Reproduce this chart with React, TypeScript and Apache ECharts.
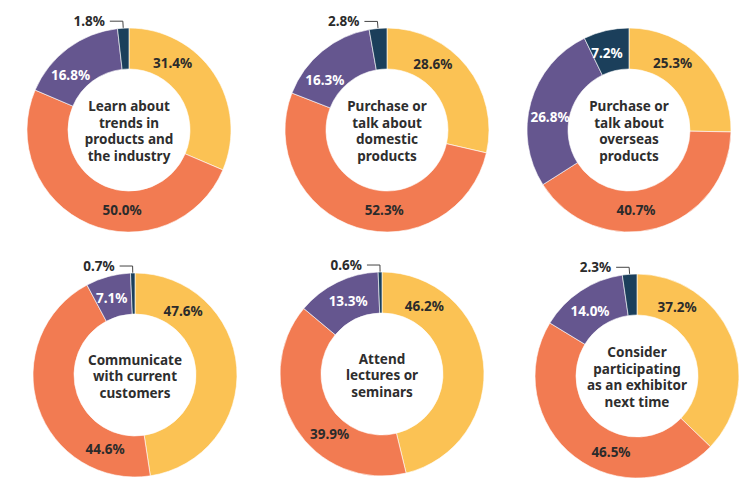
import React, { useEffect, useRef } from "react";
import * as echarts from "echarts";

// Slice categories (order clockwise from 12 o'clock)
const segmentNames = ["Segment 1", "Segment 2", "Segment 3", "Segment 4"];

// Purpose shown in the middle of each donut
const purposes = [
  "Learn about\ntrends in\nproducts and\nthe industry",
  "Purchase or\ntalk about\ndomestic\nproducts",
  "Purchase or\ntalk about\noverseas\nproducts",
  "Communicate\nwith current\ncustomers",
  "Attend\nlectures or\nseminars",
  "Consider\nparticipating\nas an exhibitor\nnext time",
];

// Shares (%) per donut
const learnTrends = [31.4, 50.0, 16.8, 1.8];
const domesticProducts = [28.6, 52.3, 16.3, 2.8];
const overseasProducts = [25.3, 40.7, 26.8, 7.2];
const currentCustomers = [47.6, 44.6, 7.1, 0.7];
const lectures = [46.2, 39.9, 13.3, 0.6];
const exhibitorNextTime = [37.2, 46.5, 14.0, 2.3];

const allValues = [
  learnTrends,
  domesticProducts,
  overseasProducts,
  currentCustomers,
  lectures,
  exhibitorNextTime,
];

// ---- layout / style (not data) ----
const COLORS = ["#FBC254", "#F27B52", "#65568F", "#1B3F5B"];
const LABEL_COLORS = ["#2B2B2B", "#2B2B2B", "#FFFFFF", "#FFFFFF"];
const CENTERS: [number, number][] = [
  [129, 130],
  [387, 130],
  [629, 130],
  [135, 375],
  [382, 374],
  [637, 376],
];
// label placement angle (deg clockwise from 12 o'clock) inside the ring, as in the reference;
// null = small slice labelled outside with a leader line
const LABEL_ANGLES: (number | null)[][] = [
  [33, 185, 313, null],
  [35, 182, 309, null],
  [33, 175, 279, 344],
  [37, 202, 343, null],
  [32, 221, 335, null],
  [30, 199, 324, null],
];
const LABEL_R = 80;
const FONT = '"Noto Sans", "DejaVu Sans", sans-serif';

export default function App() {
  const ref = useRef<HTMLDivElement>(null);

  useEffect(() => {
    if (!ref.current) return;
    const chart = echarts.init(ref.current, null, { renderer: "svg" });

    const series = allValues.map((vals, i) => ({
      type: "pie",
      center: CENTERS[i],
      radius: [61, 102],
      startAngle: 90,
      clockwise: true,
      avoidLabelOverlap: false,
      silent: true,
      itemStyle: { borderColor: "#ffffff", borderWidth: 0.6 },
      label: {
        position: "inside",
        formatter: (p: any) => `${Number(p.value).toFixed(1)}%`,
        fontFamily: FONT,
        fontSize: 13.5,
        fontWeight: "bold",
        textBorderWidth: 0,
      },
      labelLine: { show: false },
      labelLayout: (params: any) => {
        const a = LABEL_ANGLES[i][params.dataIndex];
        if (a == null) return {};
        const rad = (a * Math.PI) / 180;
        return {
          x: CENTERS[i][0] + LABEL_R * Math.sin(rad),
          y: CENTERS[i][1] - LABEL_R * Math.cos(rad),
          align: "center",
          verticalAlign: "middle",
        };
      },
      data: vals.map((v, j) => {
        const small = LABEL_ANGLES[i][j] == null;
        return {
          name: segmentNames[j],
          value: v,
          itemStyle: { color: COLORS[j] },
          label: small
            ? { position: "outside", color: "#2B2B2B", distanceToLabelLine: 5 }
            : { position: "inside", color: LABEL_COLORS[j] },
          labelLine: small
            ? {
                show: true,
                length: 7,
                length2: 13,
                smooth: false,
                lineStyle: { color: "#444444", width: 1 },
              }
            : { show: false },
        };
      }),
    }));

    chart.setOption({
      animation: false,
      backgroundColor: "#ffffff",
      series,
      graphic: purposes.map((t, i) => ({
        type: "text",
        x: CENTERS[i][0],
        y: CENTERS[i][1] + 1,
        style: {
          text: t,
          align: "center",
          verticalAlign: "middle",
          fontFamily: FONT,
          fontSize: 13.5,
          fontWeight: "bold",
          lineHeight: 16.5,
          fill: "#2E2E2E",
        },
      })),
    });

    return () => chart.dispose();
  }, []);

  return (
    <div
      ref={ref}
      style={{ position: "fixed", left: 0, top: 0, width: 748, height: 478 }}
    />
  );
}
